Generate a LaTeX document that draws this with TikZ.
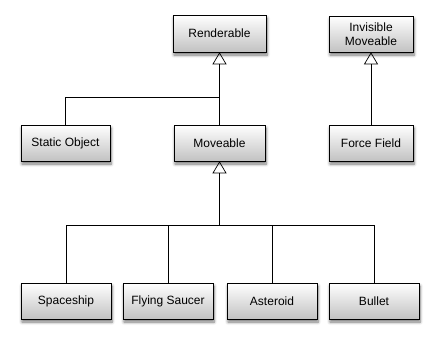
\documentclass[tikz,border=0pt]{standalone}
\usepackage{fontspec}
\setmainfont{Liberation Sans}
\usetikzlibrary{shadows.blur,arrows.meta}
\begin{document}
\begin{tikzpicture}[x=1pt,y=-1pt,
  cls/.style={draw=black, line width=0.6pt, top color=white, bottom color=black!24,
    minimum width=90pt, minimum height=36pt, inner sep=0pt, align=center,
    font=\fontsize{12}{13.5}\selectfont,
    blur shadow={shadow xshift=1pt, shadow yshift=-3pt, shadow blur steps=6,
      shadow blur radius=3pt, shadow opacity=55}},
  inh/.style={-{Triangle[open, length=12pt, width=14pt, line width=0.7pt]}, line width=0.7pt},
  conn/.style={line width=0.7pt}
]
\useasboundingbox (0,0) rectangle (439,343);
\node[cls, minimum width=93pt, minimum height=37pt] (renderable) at (219.5,33.5) {Renderable};
\node[cls, minimum width=84pt] (invis) at (371,34) {Invisible\\Moveable};
\node[cls, minimum width=89pt] (static) at (65.5,143) {Static Object};
\node[cls, minimum width=91pt] (moveable) at (219.5,143) {Moveable};
\node[cls, minimum width=84pt] (force) at (371,143) {Force Field};
\node[cls] (spaceship) at (66,301) {Spaceship};
\node[cls] (saucer) at (168,301) {Flying Saucer};
\node[cls] (asteroid) at (272,301) {Asteroid};
\node[cls] (bullet) at (374,301) {Bullet};

\coordinate (j1) at (219.5,97);
\coordinate (j2) at (219.5,225);
\draw[inh] (moveable.north) -- (renderable.south);
\draw[conn] (static.north) |- (j1);
\draw[inh] (j2) -- (moveable.south);
\draw[conn] (spaceship.north) |- (j2);
\draw[conn] (saucer.north) |- (j2);
\draw[conn] (asteroid.north) |- (j2);
\draw[conn] (bullet.north) |- (j2);
\draw[inh] (force.north) -- (invis.south);
\end{tikzpicture}
\end{document}
